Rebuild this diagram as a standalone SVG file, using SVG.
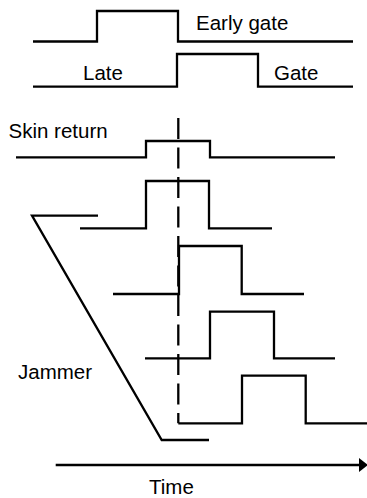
<svg xmlns="http://www.w3.org/2000/svg" width="367" height="498" viewBox="0 0 367 498">
<style>
.w{fill:none;stroke:#000;stroke-width:2.3;stroke-linejoin:miter;stroke-linecap:butt}
.t{font-family:"Liberation Sans",Arial,sans-serif;font-size:20.5px;fill:#000}
</style>
<defs>
<marker id="ah" markerWidth="10" markerHeight="14" refX="0" refY="7" orient="auto" markerUnits="userSpaceOnUse">
<path d="M0,0 L9,7 L0,14 Z" fill="#000"/>
</marker>
</defs>
<rect width="367" height="498" fill="#fff"/>
<g id="early-gate">
<path class="w" d="M33,41.5 H97 V11 H178 V41.5 H353"/>
<text class="t" x="196" y="29.5">Early gate</text>
</g>
<g id="late-gate">
<path class="w" d="M33,86.7 H177 V54 H258 V86.7 H353"/>
<text class="t" x="83" y="80">Late</text>
<text class="t" x="274" y="80">Gate</text>
</g>
<g id="skin-return">
<path class="w" d="M16,157.3 H146 V141 H210 V157.3 H335"/>
<text class="t" x="8.5" y="138.3">Skin return</text>
</g>
<g id="jammer">
<path class="w" d="M80,228.3 H146 V181 H209 V228.3 H272"/>
<path class="w" d="M113,294 H179 V246 H241.7 V294 H304"/>
<path class="w" d="M145,358.3 H210 V311.7 H274 V358.3 H335"/>
<path class="w" d="M178.3,423.3 H242 V375.7 H305.7 V423.3 H367"/>
<path class="w" d="M98,215.7 H32 L161.7,440 H209"/>
<text class="t" x="18" y="379">Jammer</text>
</g>
<g id="connectors">
<line class="w" x1="178.3" y1="118" x2="178.3" y2="423.3" stroke-dasharray="21 8.5"/>
<line class="w" x1="55.7" y1="465" x2="359" y2="465" marker-end="url(#ah)"/>
</g>
<g id="time-label">
<text class="t" x="149" y="493.5">Time</text>
</g>
</svg>
